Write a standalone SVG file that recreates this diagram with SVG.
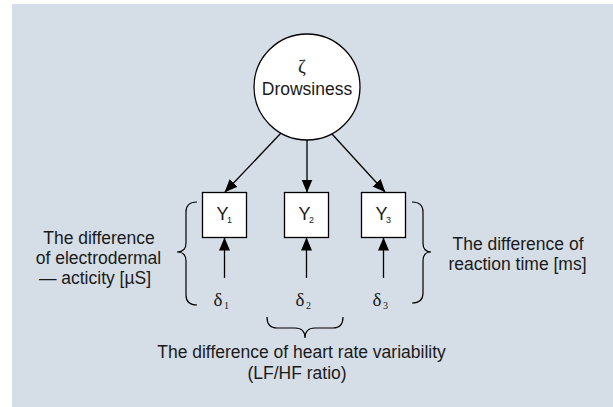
<svg xmlns="http://www.w3.org/2000/svg" width="613" height="407" viewBox="0 0 613 407">
<defs>
<style>
.lbl{font-family:"Liberation Sans",Arial,sans-serif;font-size:17.5px;fill:#1a1a1a;text-anchor:middle}
.greek{font-family:"Liberation Serif","DejaVu Serif",serif;font-size:19px;fill:#1a1a1a;text-anchor:middle}
.sub{font-family:"Liberation Serif","DejaVu Serif",serif;font-size:10px;fill:#1a1a1a}
.yl{font-family:"Liberation Sans",Arial,sans-serif;font-size:18px;fill:#1a1a1a}
.ysub{font-family:"Liberation Sans",Arial,sans-serif;font-size:9px;fill:#1a1a1a}
.node{fill:#ffffff;stroke:#000;stroke-width:1.3}
.edge{stroke:#000;stroke-width:1.3;fill:none}
.brace{stroke:#000;stroke-width:1.2;fill:none}
</style>
<marker id="ah" markerUnits="userSpaceOnUse" markerWidth="13" markerHeight="12" refX="12.5" refY="5.5" orient="auto">
<path d="M0,0 L13,5.5 L0,11 z" fill="#000"/>
</marker>
</defs>
<rect x="12" y="4" width="601" height="403" fill="#d5dde6"/>

<g id="drowsiness">
<circle class="node" cx="307" cy="87" r="53"/>
<text class="greek" x="302" y="73">ζ</text>
<text class="lbl" x="307" y="95">Drowsiness</text>
</g>

<g id="y1">
<rect class="node" x="202.5" y="192.5" width="44" height="45"/>
<text class="yl" x="216.5" y="220">Y</text>
<text class="ysub" x="227" y="223">1</text>
</g>
<g id="y2">
<rect class="node" x="284.5" y="192.5" width="44" height="45"/>
<text class="yl" x="298.5" y="220">Y</text>
<text class="ysub" x="309" y="223">2</text>
</g>
<g id="y3">
<rect class="node" x="361.5" y="192.5" width="44" height="45"/>
<text class="yl" x="375.5" y="220">Y</text>
<text class="ysub" x="386" y="223">3</text>
</g>

<g id="d1">
<text class="greek" x="218" y="306">δ</text>
<text class="sub" x="224" y="309">1</text>
</g>
<g id="d2">
<text class="greek" x="300" y="306">δ</text>
<text class="sub" x="306" y="309">2</text>
</g>
<g id="d3">
<text class="greek" x="377" y="306">δ</text>
<text class="sub" x="383" y="309">3</text>
</g>

<g id="connectors">
<line class="edge" x1="281" y1="133" x2="225" y2="192" marker-end="url(#ah)"/>
<line class="edge" x1="307" y1="140" x2="307" y2="192" marker-end="url(#ah)"/>
<line class="edge" x1="332" y1="134" x2="385" y2="192" marker-end="url(#ah)"/>
<line class="edge" x1="224.5" y1="278" x2="224.5" y2="238" marker-end="url(#ah)"/>
<line class="edge" x1="306.5" y1="278" x2="306.5" y2="238" marker-end="url(#ah)"/>
<line class="edge" x1="383.5" y1="278" x2="383.5" y2="238" marker-end="url(#ah)"/>
</g>

<g id="braces">
<path class="brace" d="M197,202 Q186,202 186,212 L186,243 Q186,252 177,252 Q186,252 186,261 L186,295 Q186,305 197,305"/>
<path class="brace" d="M412,202 Q423,202 423,212 L423,243 Q423,252 431,252 Q423,252 423,261 L423,293 Q423,303 412,303"/>
<path class="brace" d="M267,317 Q267,328 277,328 L295,328 Q305,328 305,338 Q305,328 315,328 L333,328 Q343,328 343,317"/>
</g>

<g id="label-eda">
<text class="lbl" x="99" y="244">The difference</text>
<text class="lbl" x="98.5" y="264">of electrodermal</text>
<text class="lbl" x="95" y="284">— acticity [µS]</text>
</g>
<g id="label-rt">
<text class="lbl" x="518" y="250">The difference of</text>
<text class="lbl" x="517.5" y="270">reaction time [ms]</text>
</g>
<g id="label-hrv">
<text class="lbl" x="301.5" y="358">The difference of heart rate variability</text>
<text class="lbl" x="297" y="379">(LF/HF ratio)</text>
</g>
</svg>
